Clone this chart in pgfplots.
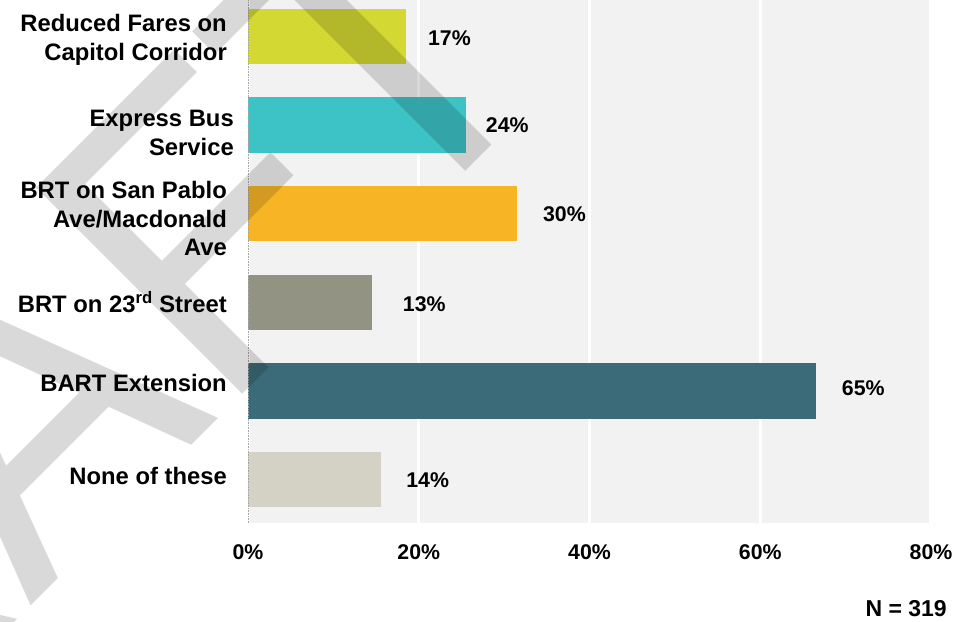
\documentclass[border=0pt]{standalone}
\usepackage{fontspec}
\setmainfont{Liberation Sans}
\usepackage{pgfplots}
\pgfplotsset{compat=1.18}
\definecolor{bgc}{HTML}{F2F2F2}
\definecolor{c1}{HTML}{D3D832}
\definecolor{c2}{HTML}{3DC3C6}
\definecolor{c3}{HTML}{F7B526}
\definecolor{c4}{HTML}{939383}
\definecolor{c5}{HTML}{3B6B78}
\definecolor{c6}{HTML}{D4D2C5}
\begin{document}
\begin{tikzpicture}[x=1bp,y=1bp]
\begin{axis}[
  at={(248bp,99bp)}, anchor=south west,
  width=683bp, height=523bp, scale only axis,
  xmin=0, xmax=80, ymin=-0.491, ymax=5.412,
  xbar, bar width=0.626,
  axis background/.style={fill=bgc},
  axis line style={draw=none},
  major tick length=0pt,
  xtick={0,20,40,60,80},
  xticklabels={0\%,20\%,40\%,60\%,80\%},
  xticklabel style={font=\bfseries\fontsize{21.3bp}{25bp}\selectfont, anchor=base, inner sep=0pt, yshift=-37bp},
  ytick={0,1,2,3,4,5},
  yticklabels={None of these, BART Extension, BRT on 23\textsuperscript{rd} Street, {BRT on San Pablo\\Ave/Macdonald\\Ave}, {Express Bus\kern-7bp\\Service\kern-7bp}, {Reduced Fares on\\Capitol Corridor}},
  yticklabel style={font=\bfseries\fontsize{23.8bp}{28.8bp}\selectfont, align=right, anchor=east, inner sep=0pt, xshift=-21bp,
    yshift={4*(\ticknum==0)+7.5*(\ticknum==1)-5*(\ticknum==3)-7.5*(\ticknum==4)-3*(\ticknum==5)}},
  xmajorgrids, major grid style={white, line width=3.3bp},
  nodes near coords, point meta=explicit symbolic,
  nodes near coords style={font=\bfseries\fontsize{21.3bp}{25bp}\selectfont, anchor=west, inner sep=0pt, text=black},
  clip=false,
]
\addplot[fill=c1, draw=none, bar shift=0pt, nodes near coords style={xshift=22bp, yshift=-2bp}] coordinates {(18.5,5) [17\%]};
\addplot[fill=c2, draw=none, bar shift=0pt, nodes near coords style={xshift=20bp}] coordinates {(25.5,4) [24\%]};
\addplot[fill=c3, draw=none, bar shift=0pt, nodes near coords style={xshift=26bp}] coordinates {(31.5,3) [30\%]};
\addplot[fill=c4, draw=none, bar shift=0pt, nodes near coords style={xshift=31bp, yshift=-2bp}] coordinates {(14.5,2) [13\%]};
\addplot[fill=c5, draw=none, bar shift=0pt, nodes near coords style={xshift=26bp, yshift=2.5bp}] coordinates {(66.5,1) [65\%]};
\addplot[fill=c6, draw=none, bar shift=0pt, nodes near coords style={xshift=25bp, yshift=-1bp}] coordinates {(15.6,0) [14\%]};
\draw[black!35, densely dotted, line width=0.6bp] (axis cs:0,-0.491) -- (axis cs:0,5.412);
\end{axis}
\node[anchor=base east, inner sep=0pt, font=\bfseries\fontsize{23bp}{27bp}\selectfont] at (947,5) {N = 319};
\begin{scope}[shift={(565.1,550.1)}]
\node[anchor=base east, rotate=45, yscale=1.06, inner sep=0pt, outer sep=0pt, text=black, text opacity=0.15, font=\fontsize{400bp}{400bp}\selectfont] at (0,0) {DRAFT};
\end{scope}
\pgfresetboundingbox
\useasboundingbox (0,0) rectangle (974,622);
\end{tikzpicture}
\end{document}
